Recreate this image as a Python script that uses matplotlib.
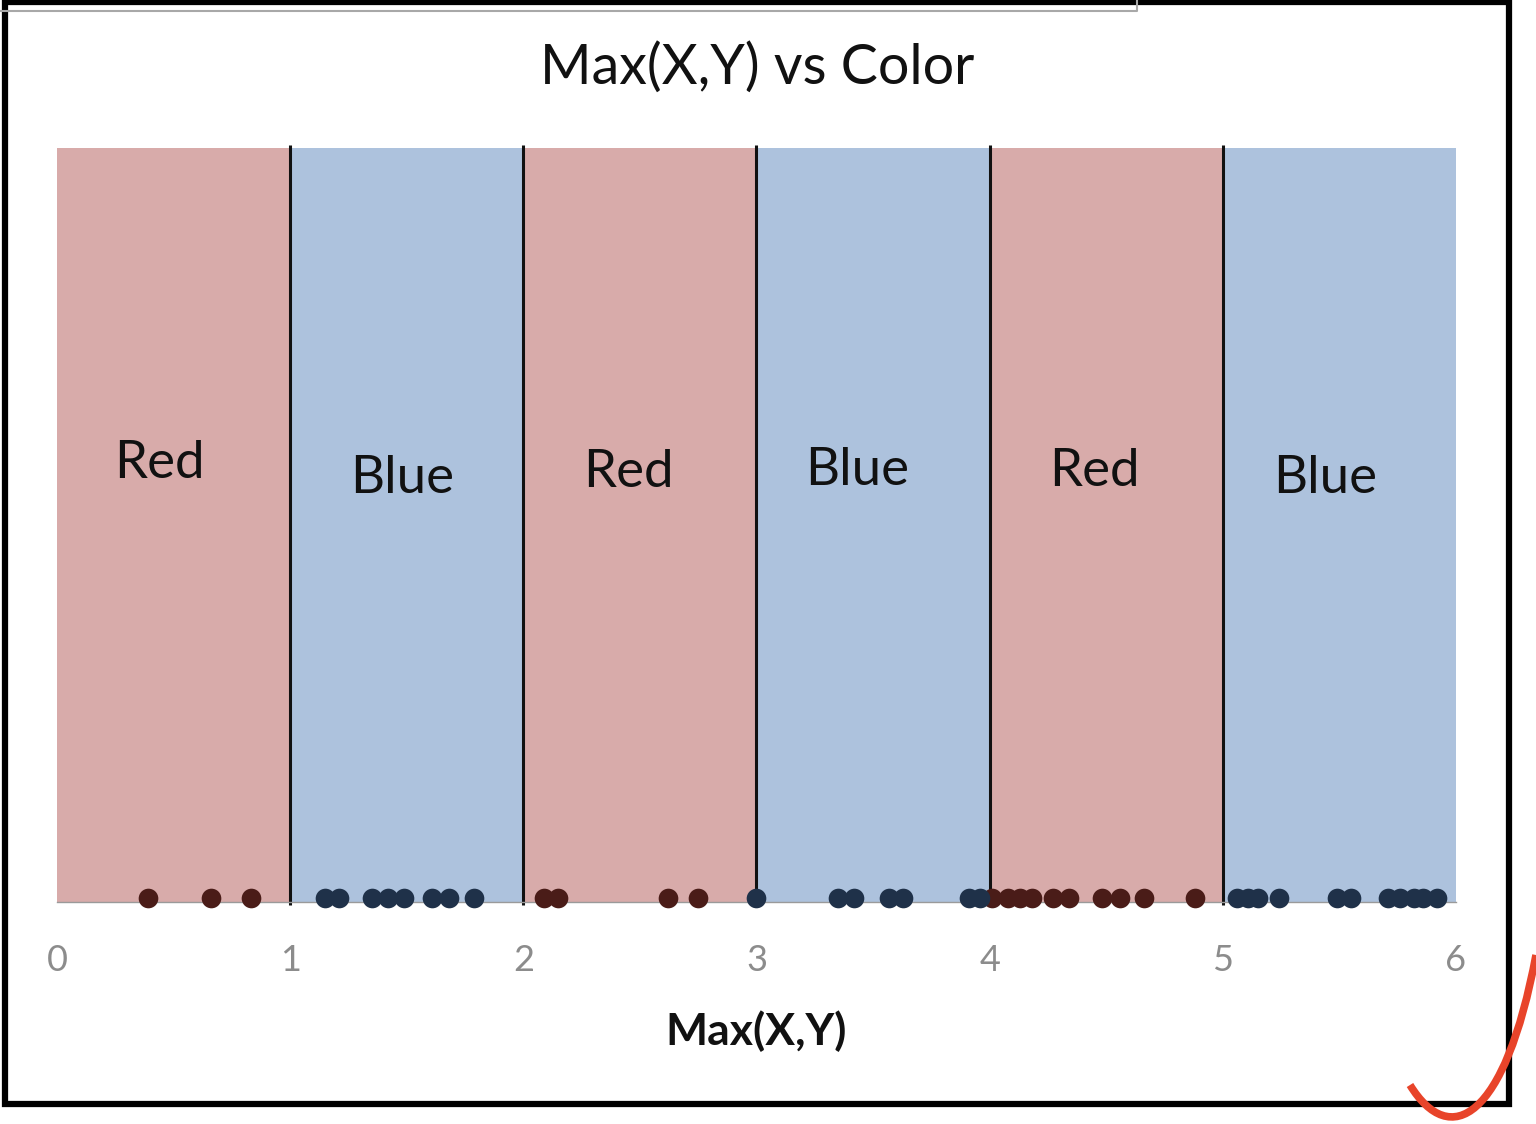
import matplotlib
matplotlib.use('Agg')
import matplotlib.pyplot as plt
from matplotlib.patches import Rectangle, PathPatch
from matplotlib.path import Path
from matplotlib.lines import Line2D

plt.rcParams['font.family'] = ['Lato', 'DejaVu Sans']

# bands
band_edges = [0, 1, 2, 3, 4, 5, 6]
band_names = ['Red', 'Blue', 'Red', 'Blue', 'Red', 'Blue']
label_x = [0.44, 1.48, 2.45, 3.43, 4.45, 5.44]
label_y = [0.582, 0.562, 0.570, 0.573, 0.571, 0.562]

# points
red_x = [0.39, 0.66, 0.83, 2.09, 2.15, 2.62, 2.75, 4.01, 4.08, 4.13, 4.18,
         4.27, 4.34, 4.48, 4.56, 4.66, 4.88]
blue_x = [1.15, 1.21, 1.35, 1.42, 1.49, 1.61, 1.68, 1.79, 3.0, 3.35, 3.42,
          3.57, 3.63, 3.91, 3.96, 5.06, 5.11, 5.15, 5.24, 5.49, 5.55,
          5.71, 5.76, 5.82, 5.86, 5.92]

RED_BG = '#d8abaa'
BLUE_BG = '#adc2dd'
RED_DOT = '#4a1c18'
BLUE_DOT = '#1f3149'

fig = plt.figure(figsize=(15.36, 11.24), dpi=100)
fig.patch.set_facecolor('white')
ax = fig.add_axes([0.0371, 0.1975, 0.9108, 0.6705])

for i, name in enumerate(band_names):
    ax.axvspan(band_edges[i], band_edges[i + 1], ymin=0, ymax=1,
               color=RED_BG if name == 'Red' else BLUE_BG, lw=0, zorder=0)
    ax.text(label_x[i], label_y[i], name, fontsize=38, color='#111111',
            ha='center', va='center', zorder=3)

for e in band_edges[1:-1]:
    ax.plot([e, e], [-0.004, 1.004], color='#111111', lw=2.2, zorder=2,
            clip_on=False, solid_capstyle='butt')

ax.scatter(red_x, [0.005] * len(red_x), s=200, color=RED_DOT, zorder=4,
           clip_on=False, lw=0)
ax.scatter(blue_x, [0.005] * len(blue_x), s=200, color=BLUE_DOT, zorder=4,
           clip_on=False, lw=0)

ax.set_xlim(0, 6)
ax.set_ylim(0, 1)
ax.set_yticks([])
ax.set_xticks(range(7))
ax.tick_params(axis='x', length=0, pad=30, labelsize=26, labelcolor='#8c8c8c')
for s in ['top', 'left', 'right']:
    ax.spines[s].set_visible(False)
ax.spines['bottom'].set_color('#9a9a9a')
ax.spines['bottom'].set_linewidth(1)

ax.set_xlabel('Max(X,Y)', fontsize=32, fontweight='bold', color='#111111',
              labelpad=24)
fig.text(0.493, 0.94, 'Max(X,Y) vs Color', fontsize=40, ha='center',
         va='center', color='#111111')

# frame around the screenshot
fig.add_artist(Rectangle((5 / 1536, 1 - 1104 / 1124), 1504 / 1536, 1102 / 1124,
                         transform=fig.transFigure, fill=False,
                         edgecolor='black', lw=4.5))
fig.add_artist(Line2D([0, 1137 / 1536, 1137 / 1536],
                      [1 - 11 / 1124, 1 - 11 / 1124, 1],
                      transform=fig.transFigure, color='#a8a8a8', lw=1.5))

# red hand-drawn tick mark
W, H = 1536, 1124
pts = [(1410, 1085), (1450, 1150), (1505, 1120), (1536, 955)]
verts = [(x / W, 1 - y / H) for x, y in pts]
path = Path(verts, [Path.MOVETO, Path.CURVE4, Path.CURVE4, Path.CURVE4])
fig.add_artist(PathPatch(path, transform=fig.transFigure, fill=False,
                         edgecolor='#e8442a', lw=5.5, capstyle='butt'))

fig.savefig('out.png', dpi=100, facecolor='white')
